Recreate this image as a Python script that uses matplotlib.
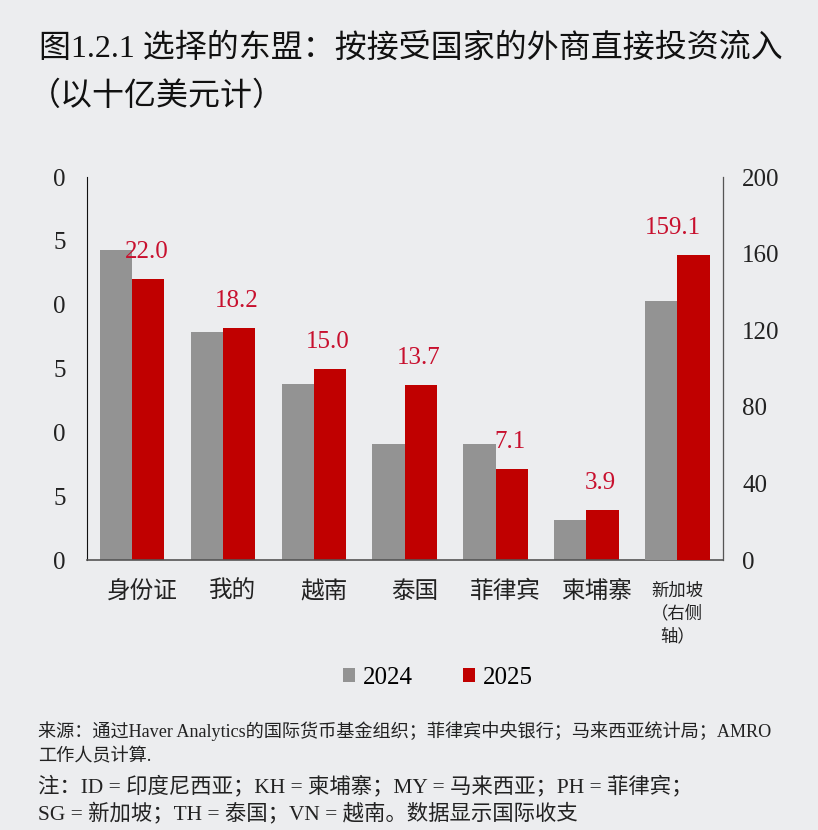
import matplotlib
matplotlib.use("Agg")
import matplotlib.pyplot as plt
import matplotlib.transforms as mtransforms
import numpy as np

plt.rcParams['font.family'] = ['Liberation Serif', 'Noto Sans CJK SC', 'DejaVu Sans']

categories = ["身份证", "我的", "越南", "泰国", "菲律宾", "柬埔寨", "新加坡\n（右侧\n轴）"]
series_names = ["2024", "2025"]
values_2024 = [24.3, 17.9, 13.8, 9.1, 9.1, 3.1, 135.2]
values_2025 = [22.0, 18.2, 15.0, 13.7, 7.1, 3.9, 159.1]
label_2025 = ["22.0", "18.2", "15.0", "13.7", "7.1", "3.9", "159.1"]
left_ticks = [0, 5, 10, 15, 20, 25, 30]
left_tick_labels = ["0", "5", "0", "5", "0", "5", "0"]
right_ticks = [0, 40, 80, 120, 160, 200]
right_tick_labels = ["0", "40", "80", "120", "160", "200"]

BG = "#ECEDEF"
GRAY = "#939393"
RED = "#C00000"
LABEL_RED = "#C8102E"

fig = plt.figure(figsize=(8.18, 8.30), dpi=100, facecolor=BG)
ax = fig.add_axes([0.106, 0.3253, 0.7775, 0.4614], facecolor=BG)
ax2 = ax.twinx()

n = len(categories)
x = np.arange(n)
w = 0.356
left_idx = x[:-1]
right_idx = x[-1:]

b1 = ax.bar(left_idx - w / 2, values_2024[:-1], w, color=GRAY, label=series_names[0])
b2 = ax.bar(left_idx + w / 2, values_2025[:-1], w, color=RED, label=series_names[1])
ax2.bar(right_idx - w / 2, values_2024[-1:], w, color=GRAY)
ax2.bar(right_idx + w / 2, values_2025[-1:], w, color=RED)

for i in range(n - 1):
    ax.annotate(label_2025[i], (x[i] + w / 2, values_2025[i]), xytext=(-2, 16),
                textcoords='offset pixels', ha='center', va='bottom',
                color=LABEL_RED, fontsize=18)
ax2.annotate(label_2025[-1], (x[-1] + w / 2, values_2025[-1]), xytext=(-21, 16),
             textcoords='offset pixels', ha='center', va='bottom',
             color=LABEL_RED, fontsize=18)

ax.set_xlim(-0.5, n - 0.5)
ax.set_ylim(0, 30)
ax2.set_ylim(0, 200)
ax.set_yticks(left_ticks)
ax.set_yticklabels(left_tick_labels, fontsize=18, color="#222222")
ax2.set_yticks(right_ticks)
ax2.set_yticklabels(right_tick_labels, fontsize=18, color="#222222")
ax.tick_params(axis='y', length=0, pad=15)
ax2.tick_params(axis='y', length=0, pad=14)

ax.set_xticks(x)
ax.set_xticklabels(categories[:-1] + [""], fontsize=17, color="#222222")
ax.tick_params(axis='x', length=0, pad=15)
shift = mtransforms.ScaledTranslation(10 / 100, 0, fig.dpi_scale_trans)
for lab in ax.get_xticklabels():
    lab.set_transform(lab.get_transform() + shift)
# Singapore label (smaller, multi-line)
ax.text(x[-1], -0.06, categories[-1], transform=ax.get_xaxis_transform(),
        ha='center', va='top', fontsize=12.5, color="#222222", linespacing=1.5)

ax.spines['top'].set_visible(False)
ax2.spines['top'].set_visible(False)
ax2.patch.set_visible(False)
ax.spines['left'].set_color("#111111")
ax.spines['bottom'].set_color("#555555")
ax2.spines['left'].set_visible(False)
ax2.spines['bottom'].set_visible(False)
ax2.spines['right'].set_color("#555555")
ax.spines['bottom'].set_linewidth(1.2)

fig.legend(handles=[b1, b2], labels=series_names, loc='center',
           bbox_to_anchor=(0.535, 0.183), ncol=2, frameon=False, fontsize=18,
           handlelength=0.5, handleheight=0.5, handletextpad=0.3, columnspacing=2.0)

fig.text(0.048, 0.941, "图1.2.1 选择的东盟：按接受国家的外商直接投资流入",
         fontsize=23, ha='left', va='center', color="#111111")
fig.text(0.035, 0.883, "（以十亿美元计）", fontsize=23, ha='left', va='center', color="#111111")

fig.text(0.046, 0.119, "来源：通过Haver Analytics的国际货币基金组织；菲律宾中央银行；马来西亚统计局；AMRO",
         fontsize=13.1, ha='left', va='center', color="#222222")
fig.text(0.046, 0.088, "工作人员计算.", fontsize=13.1, ha='left', va='center', color="#222222")
fig.text(0.046, 0.053, "注：ID = 印度尼西亚；KH = 柬埔寨；MY = 马来西亚；PH = 菲律宾；",
         fontsize=15.4, ha='left', va='center', color="#222222")
fig.text(0.046, 0.019, "SG = 新加坡；TH = 泰国；VN = 越南。数据显示国际收支",
         fontsize=15.4, ha='left', va='center', color="#222222")

fig.savefig("out.png", dpi=100, facecolor=BG)
